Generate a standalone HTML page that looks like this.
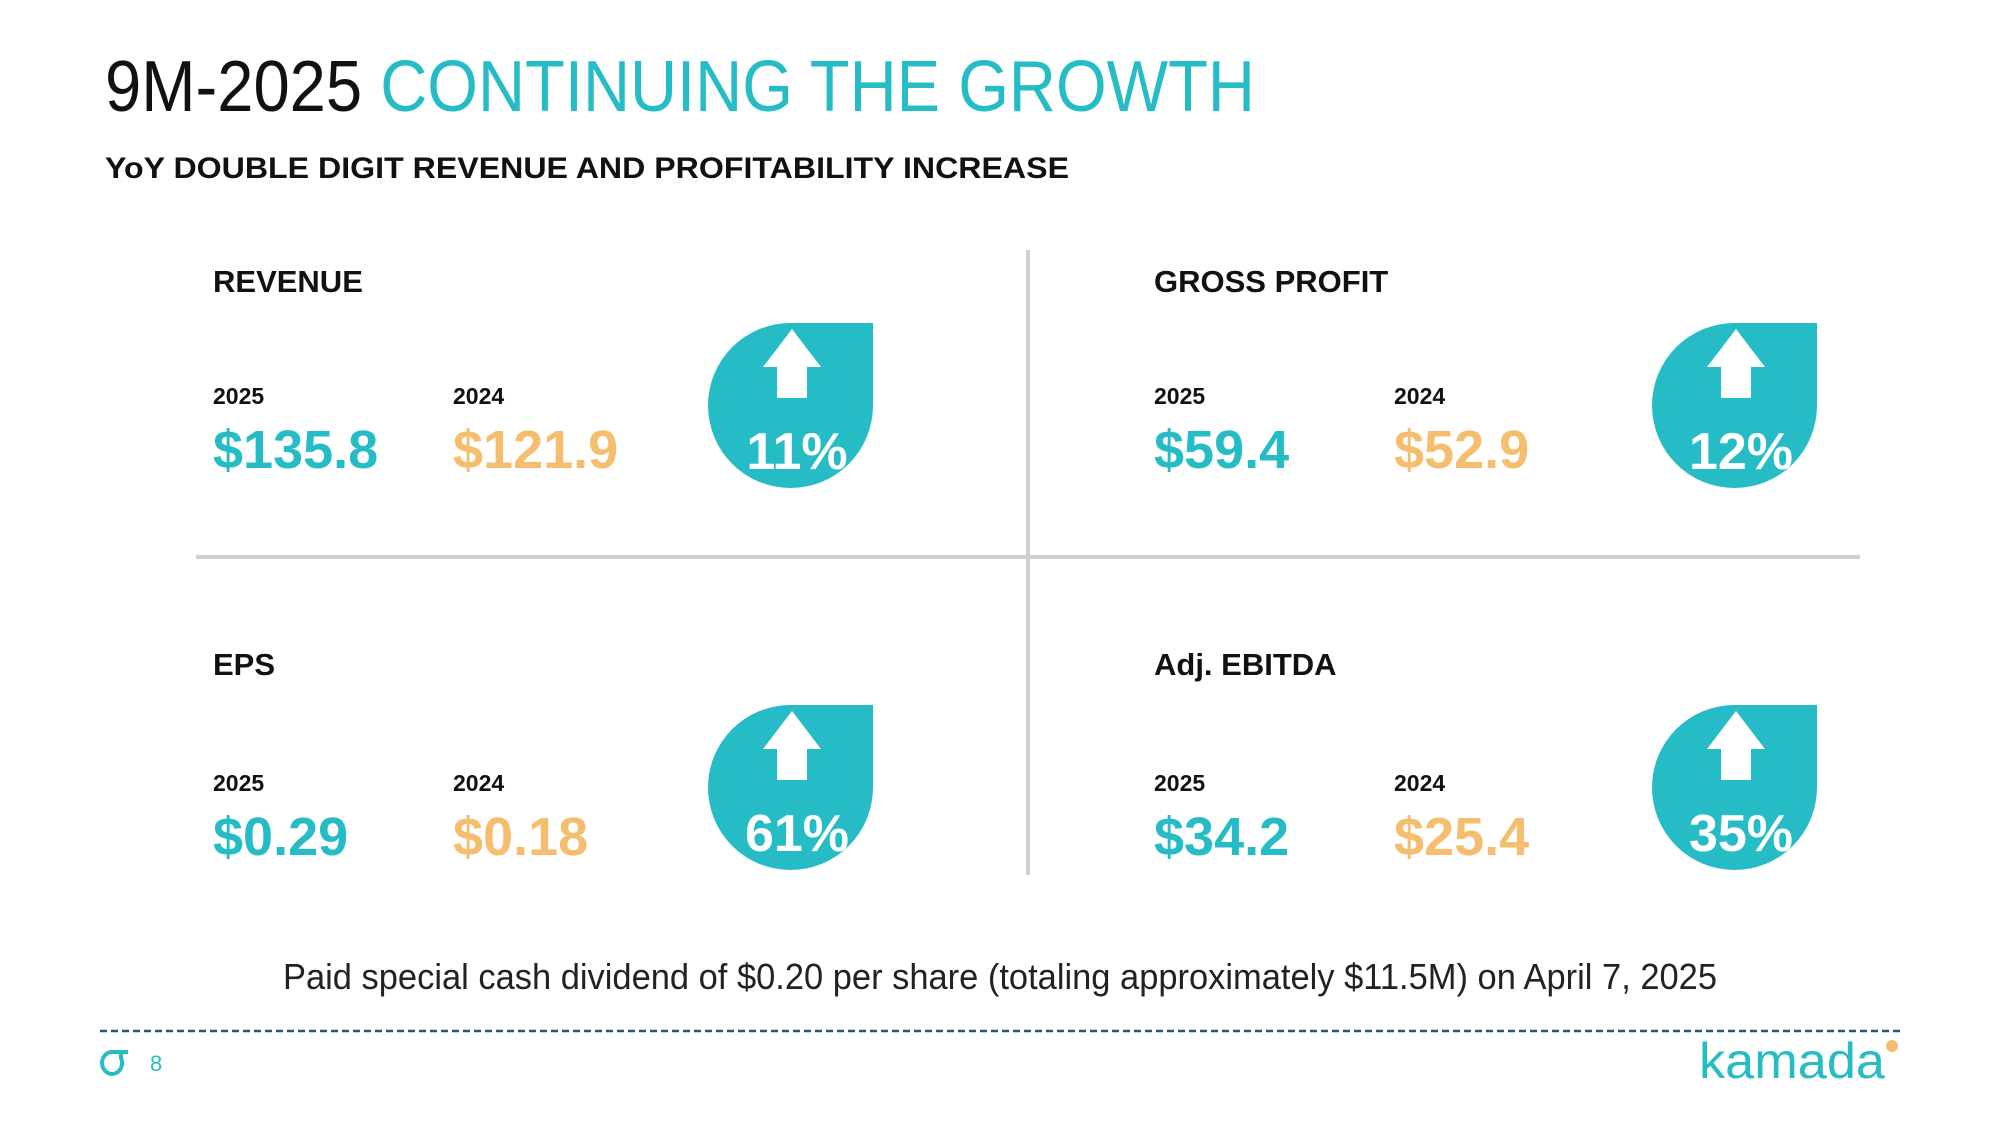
<!DOCTYPE html>
<html><head><meta charset="utf-8"><style>html,body{margin:0;padding:0;background:#fff}svg{display:block}text{font-family:"Liberation Sans",sans-serif}</style></head>
<body>
<svg width="2000" height="1125" viewBox="0 0 2000 1125">
<text x="105" y="111" font-size="72" textLength="1150" lengthAdjust="spacingAndGlyphs"><tspan fill="#111">9M-2025 </tspan><tspan fill="#26bcc6">CONTINUING THE GROWTH</tspan></text>
<text x="105" y="178" font-size="30" font-weight="bold" fill="#111" textLength="964" lengthAdjust="spacingAndGlyphs">YoY DOUBLE DIGIT REVENUE AND PROFITABILITY INCREASE</text>
<line x1="1028" y1="250" x2="1028" y2="875" stroke="#d0d0d0" stroke-width="4"/>
<line x1="196" y1="557" x2="1860" y2="557" stroke="#d0d0d0" stroke-width="4"/>
<g id="cards"></g>
<text x="283" y="989" font-size="36" fill="#222" textLength="1434" lengthAdjust="spacingAndGlyphs">Paid special cash dividend of $0.20 per share (totaling approximately $11.5M) on April 7, 2025</text>
<line x1="100" y1="1031" x2="1900" y2="1031" stroke="#1f5a7a" stroke-width="2.5" stroke-dasharray="7,4"/>
<path d="M128 1052 H113 A10 11 0 1 0 121 1058 V1052" fill="none" stroke="#26bcc6" stroke-width="4"/>
<text x="150" y="1071" font-size="22" fill="#26bcc6">8</text>
<text x="1699" y="1078" font-size="50" fill="#26bcc6" textLength="186" lengthAdjust="spacingAndGlyphs">kamada</text>
<circle cx="1892" cy="1046" r="6" fill="#f5bd6e"/>
</svg>
<script>
const labels=["REVENUE","GROSS PROFIT","EPS","Adj. EBITDA"];
const v2025=["$135.8","$59.4","$0.29","$34.2"];
const v2024=["$121.9","$52.9","$0.18","$25.4"];
const pct=["11%","12%","61%","35%"];
const NS="http://www.w3.org/2000/svg";
const g=document.getElementById('cards');
function t(x,y,s,fs,fill,w,name){const e=document.createElementNS(NS,'text');e.setAttribute('x',x);e.setAttribute('y',y);e.setAttribute('font-size',fs);e.setAttribute('font-weight','bold');e.setAttribute('fill',fill);
if(w){e.setAttribute('textLength',w);e.setAttribute('lengthAdjust','spacingAndGlyphs');}
e.textContent=s;


g.appendChild(e);return e;}
const cols=[213,1154],rows=[[292,404,468,323],[675,791,855,705]];
labels.forEach((l,i)=>{
 const x=cols[i%2],r=rows[Math.floor(i/2)];
 t(x,r[0],l,31,'#111',null,'card-label');
 t(x,r[1],'2025',23,'#111',null,'year-2025-label');
 t(x+240,r[1],'2024',23,'#111',null,'year-2024-label');
 t(x,r[2],v2025[i],54,'#26bcc6',null,'value-2025');
 t(x+240,r[2],v2024[i],54,'#f5bd6e',null,'value-2024');
 const dx=x+495+(i%2)*3,dy=r[3],s=165,h=s/2;
 const p=document.createElementNS(NS,'path');
 p.setAttribute('d',`M${dx+h} ${dy} H${dx+s} V${dy+h} A${h} ${h} 0 1 1 ${dx+h} ${dy} Z`);
 p.setAttribute('fill','#26bcc6');
 
 
 g.appendChild(p);
 const a=document.createElementNS(NS,'path');const cx=dx+84;
 a.setAttribute('d',`M${cx} ${dy+6} L${cx+29} ${dy+44} H${cx+15} V${dy+75} H${cx-15} V${dy+44} H${cx-29} Z`);
 a.setAttribute('fill','#fff');
 
 
 g.appendChild(a);
 const pt=t(dx+89,dy+146,pct[i],52,'#fff',null,'growth-percent');pt.setAttribute('text-anchor','middle');
});
</script>
</body></html>
